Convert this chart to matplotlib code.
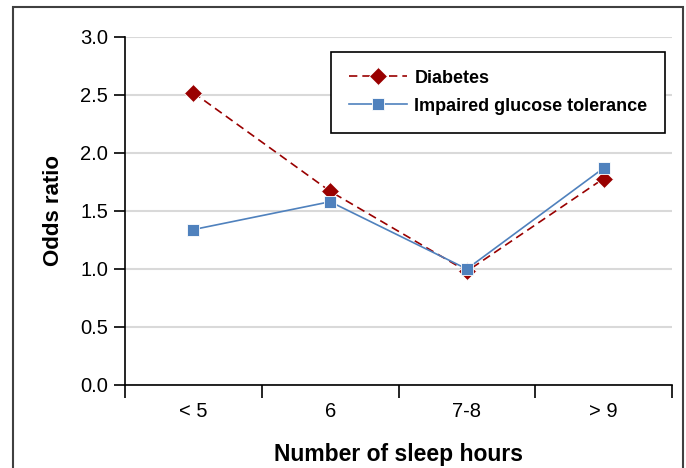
import matplotlib
matplotlib.use("Agg")
import matplotlib.pyplot as plt
from matplotlib.patches import Rectangle

categories = ["< 5", "6", "7-8", "> 9"]
diabetes = [2.52, 1.67, 0.98, 1.78]
impaired = [1.34, 1.58, 1.00, 1.87]
y_ticks = [0.0, 0.5, 1.0, 1.5, 2.0, 2.5, 3.0]

plt.rcParams["font.family"] = ["Liberation Sans", "DejaVu Sans"]

W, H = 686, 468
fig = plt.figure(figsize=(W / 100, H / 100), dpi=100)
ax = fig.add_axes([125 / W, 1 - 385 / H, (672 - 125) / W, (385 - 37) / H])

# рамка вокруг всего рисунка
fig.patches.append(Rectangle((13 / W, -0.05), (683 - 13) / W, 1 - 7 / H + 0.05,
                             transform=fig.transFigure, fill=False,
                             edgecolor="#404040", linewidth=1.5))

x = list(range(len(categories)))
ax.plot(x, diabetes, color="#990000", linestyle=(0, (5, 3)), linewidth=1.2,
        marker="D", markersize=9, markeredgecolor="white", markeredgewidth=0.6,
        label="Diabetes", zorder=3)
ax.plot(x, impaired, color="#4F81BD", linewidth=1.2,
        marker="s", markersize=9, markeredgecolor="white", markeredgewidth=0.6,
        label="Impaired glucose tolerance", zorder=4)

ax.set_xlim(-0.5, len(categories) - 0.5)
ax.set_ylim(0, 3.0)
ax.set_yticks(y_ticks)
ax.set_yticklabels([f"{v:.1f}" for v in y_ticks], fontsize=14.5)
ax.yaxis.grid(True, color="#D9D9D9", linewidth=1.5)
ax.set_axisbelow(True)

ax.set_xticks([i - 0.5 for i in range(len(categories) + 1)])
ax.set_xticklabels([])
ax.set_xticks(x, minor=True)
ax.set_xticklabels(categories, minor=True, fontsize=14.5)
ax.tick_params(axis="x", which="major", length=9, width=1.2, direction="out")
ax.tick_params(axis="x", which="minor", length=0, pad=12)
ax.tick_params(axis="y", length=8, width=1.2, direction="out", pad=4)

for s in ["top", "right"]:
    ax.spines[s].set_visible(False)
for s in ["left", "bottom"]:
    ax.spines[s].set_linewidth(1.2)

ax.set_ylabel("Odds ratio", fontsize=16, fontweight="bold", labelpad=12)
ax.set_xlabel("Number of sleep hours", fontsize=16.5, fontweight="bold", labelpad=16)

leg = ax.legend(loc="upper right", bbox_to_anchor=(0.988, 0.958),
                prop={"weight": "bold", "size": 13}, fancybox=False,
                edgecolor="black", framealpha=1, handlelength=3.2,
                handletextpad=0.4, borderpad=1.0, labelspacing=0.6,
                borderaxespad=0)
leg.get_frame().set_linewidth(1.2)

fig.savefig("out.png", dpi=100)
